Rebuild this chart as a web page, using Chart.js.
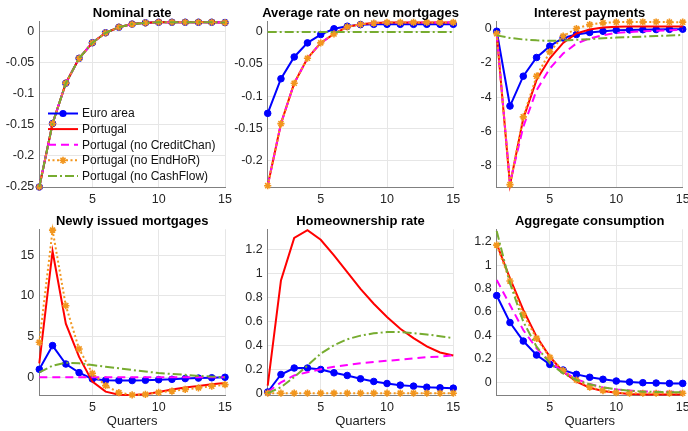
<!DOCTYPE html>
<html>
<head>
<meta charset="utf-8">
<script src="https://cdn.jsdelivr.net/npm/chart.js@4.4.1/dist/chart.umd.min.js"></script>
<style>
html,body{margin:0;padding:0;background:#fff;width:688px;height:431px;overflow:hidden;position:relative}
canvas{position:absolute;left:0;top:0}
</style>
</head>
<body>
<canvas id="c1" width="720" height="431"></canvas>
<canvas id="c2" width="720" height="431"></canvas>
<canvas id="c3" width="720" height="431"></canvas>
<canvas id="c4" width="720" height="431"></canvas>
<canvas id="c5" width="720" height="431"></canvas>
<canvas id="c6" width="720" height="431"></canvas>
<script>
// ---------------- DATA ----------------
const quarters = [1,2,3,4,5,6,7,8,9,10,11,12,13,14,15];
const xTickValues = [5,10,15];
const seriesNames = ['Euro area','Portugal','Portugal (no CreditChan)','Portugal (no EndHoR)','Portugal (no CashFlow)'];
const panelTitles = ['Nominal rate','Average rate on new mortgages','Interest payments','Newly issued mortgages','Homeownership rate','Aggregate consumption'];
const xAxisTitle = 'Quarters';

// Nominal rate
const nomEuro  = [-0.25,-0.148,-0.083,-0.043,-0.018,-0.002,0.007,0.012,0.014,0.015,0.015,0.015,0.015,0.015,0.0145];
const nomPT    = [-0.25,-0.148,-0.083,-0.043,-0.018,-0.002,0.007,0.012,0.014,0.015,0.015,0.015,0.015,0.015,0.0145];
const nomNoCC  = [-0.25,-0.148,-0.083,-0.043,-0.018,-0.002,0.007,0.012,0.014,0.015,0.015,0.015,0.015,0.015,0.0145];
const nomNoEH  = [-0.25,-0.148,-0.083,-0.043,-0.018,-0.002,0.007,0.012,0.014,0.015,0.015,0.015,0.015,0.015,0.0145];
const nomNoCF  = [-0.25,-0.148,-0.083,-0.043,-0.018,-0.002,0.007,0.012,0.014,0.015,0.015,0.015,0.015,0.015,0.0145];
const nomYTicks = [-0.25,-0.2,-0.15,-0.1,-0.05,0];

// Average rate on new mortgages
const mortEuro = [-0.127,-0.073,-0.039,-0.017,-0.004,0.005,0.009,0.0115,0.012,0.012,0.012,0.012,0.012,0.012,0.012];
const mortPT   = [-0.240,-0.143,-0.080,-0.041,-0.017,-0.003,0.008,0.012,0.014,0.015,0.015,0.015,0.015,0.015,0.015];
const mortNoCC = [-0.240,-0.143,-0.080,-0.041,-0.017,-0.003,0.008,0.012,0.014,0.015,0.015,0.015,0.015,0.015,0.015];
const mortNoEH = [-0.240,-0.143,-0.080,-0.041,-0.017,-0.003,0.008,0.012,0.014,0.015,0.015,0.015,0.015,0.015,0.015];
const mortNoCF = [0,0,0,0,0,0,0,0,0,0,0,0,0,0,0];
const mortYTicks = [-0.2,-0.15,-0.1,-0.05,0];

// Interest payments
const intEuro = [-0.16,-4.52,-2.78,-1.69,-1.03,-0.55,-0.35,-0.23,-0.16,-0.10,-0.08,-0.07,-0.06,-0.05,-0.04];
const intPT   = [-0.3,-9.12,-5.25,-3.0,-1.74,-0.84,-0.29,-0.06,0.06,0.1,0.12,0.12,0.12,0.12,0.12];
const intNoCC = [-0.3,-9.0,-5.73,-3.6,-2.33,-1.46,-0.87,-0.58,-0.39,-0.26,-0.2,-0.16,-0.13,-0.1,-0.08];
const intNoEH = [-0.3,-9.1,-5.15,-2.78,-1.36,-0.45,0.0,0.23,0.33,0.37,0.38,0.38,0.38,0.37,0.37];
const intNoCF = [-0.4,-0.55,-0.64,-0.69,-0.72,-0.7,-0.66,-0.62,-0.57,-0.53,-0.5,-0.47,-0.44,-0.41,-0.38];
const intYTicks = [-8,-6,-4,-2,0];

// Newly issued mortgages
const newEuro = [0.98,3.9,1.63,0.57,-0.2,-0.37,-0.4,-0.4,-0.37,-0.3,-0.25,-0.16,-0.1,-0.06,0.0];
const newPT   = [1.72,15.5,6.6,2.5,-0.54,-1.77,-2.15,-2.17,-2.1,-1.8,-1.5,-1.27,-1.07,-0.86,-0.7];
const newNoCC = [0,0,0,0,0,0,0,0,0,0,0,0,0,0,0];
const newNoEH = [4.3,18.1,8.8,3.48,0.49,-1.03,-1.89,-2.17,-2.1,-1.85,-1.7,-1.5,-1.3,-1.1,-0.9];
const newNoCF = [0.6,1.43,1.8,1.72,1.5,1.3,1.1,0.9,0.7,0.53,0.4,0.3,0.17,0.08,0.0];
const newYTicks = [0,5,10,15];

// Homeownership rate
const homeEuro = [0.01,0.156,0.21,0.21,0.198,0.17,0.148,0.12,0.098,0.081,0.067,0.059,0.05,0.045,0.042];
const homePT   = [0.064,0.94,1.295,1.36,1.28,1.15,1.01,0.87,0.746,0.635,0.538,0.46,0.39,0.34,0.315];
const homeNoCC = [0.01,0.09,0.148,0.175,0.2,0.22,0.235,0.25,0.26,0.27,0.28,0.29,0.3,0.305,0.315];
const homeNoEH = [0,0,0,0,0,0,0,0,0,0,0,0,0,0,0];
const homeNoCF = [0,0.05,0.135,0.23,0.33,0.4,0.45,0.48,0.5,0.51,0.51,0.5,0.49,0.475,0.46];
const homeYTicks = [0,0.2,0.4,0.6,0.8,1,1.2];

// Aggregate consumption
const consEuro = [0.74,0.51,0.352,0.233,0.153,0.105,0.068,0.043,0.026,0.011,0.003,-0.003,-0.006,-0.009,-0.009];
const consPT   = [1.18,0.887,0.617,0.39,0.218,0.09,0.005,-0.046,-0.074,-0.089,-0.1,-0.103,-0.103,-0.103,-0.103];
const consNoCC = [0.873,0.66,0.446,0.29,0.176,0.09,0.028,-0.015,-0.043,-0.06,-0.07,-0.078,-0.08,-0.08,-0.08];
const consNoEH = [1.17,0.864,0.58,0.375,0.213,0.1,0.02,-0.04,-0.07,-0.088,-0.093,-0.093,-0.093,-0.093,-0.093];
const consNoCF = [1.29,0.845,0.517,0.304,0.162,0.077,0.02,-0.017,-0.043,-0.06,-0.071,-0.08,-0.082,-0.084,-0.085];
const consYTicks = [0,0.2,0.4,0.6,0.8,1,1.2];

// ---------------- STYLE / LAYOUT ----------------
const FONT = "'Liberation Sans', Arial, Helvetica, sans-serif";
const GRID = '#e6e6e6';
const AXIS = '#808080';
const TICKC = '#262626';
const CW = 720, CH = 431;
const YW = 45;

const styles = [
  {color:'#0000ff', dash:[], width:2, pointStyle:'circle', radius:3.3, pbw:1, order:5},
  {color:'#ff0000', dash:[], width:2, pointStyle:false, radius:0, pbw:0, order:4},
  {color:'#ff00ff', dash:[8,5], width:2, pointStyle:false, radius:0, pbw:0, order:3},
  {color:'#f2961e', dash:[2,2.5], width:2, pointStyle:'star', radius:3.6, pbw:1.6, order:2},
  {color:'#77ac30', dash:[9,3,2,3], width:2, pointStyle:false, radius:0, pbw:0, order:1}
];

function buildDatasets(arrs){
  return arrs.map((arr,i)=>{
    const s = styles[i];
    return {
      label: seriesNames[i],
      data: quarters.map((q,k)=>({x:q, y:arr[k]})),
      borderColor: s.color,
      backgroundColor: s.color,
      borderWidth: s.width,
      borderDash: s.dash,
      pointStyle: s.pointStyle || 'circle',
      pointRadius: s.radius,
      pointHoverRadius: s.radius,
      pointBorderWidth: s.pbw,
      pointBorderColor: s.color,
      pointBackgroundColor: s.color,
      tension: 0,
      fill: false,
      clip: false,
      order: s.order
    };
  });
}

const panelTitlePlugin = {
  id:'panelTitle',
  afterDraw(chart, args, opts){
    const {ctx, chartArea} = chart;
    ctx.save();
    ctx.font = 'bold 13px ' + FONT;
    ctx.fillStyle = '#000';
    ctx.textAlign = 'center';
    ctx.textBaseline = 'middle';
    ctx.fillText(opts.text, (chartArea.left + chartArea.right)/2, chartArea.top - 8);
    ctx.restore();
  }
};

const legendPlugin = {
  id:'seriesLegend',
  afterDraw(chart, args, opts){
    if (!opts.show) return;
    const ctx = chart.ctx;
    const ds = chart.data.datasets;
    ctx.save();
    ds.forEach((d,i)=>{
      const y = opts.y0 + i*opts.dy;
      const x0 = opts.x0, x1 = opts.x0 + 30;
      ctx.strokeStyle = d.borderColor;
      ctx.lineWidth = d.borderWidth;
      ctx.setLineDash(d.borderDash || []);
      ctx.beginPath(); ctx.moveTo(x0,y); ctx.lineTo(x1,y); ctx.stroke();
      ctx.setLineDash([]);
      const cx = (x0+x1)/2;
      if (d.pointRadius > 0){
        if (d.pointStyle === 'circle'){
          ctx.fillStyle = d.pointBackgroundColor;
          ctx.beginPath(); ctx.arc(cx,y,d.pointRadius+0.3,0,Math.PI*2); ctx.fill();
        } else {
          ctx.lineWidth = d.pointBorderWidth;
          ctx.beginPath();
          for (let a=0;a<4;a++){
            const ang = a*Math.PI/4;
            const r = d.pointRadius;
            ctx.moveTo(cx - r*Math.cos(ang), y - r*Math.sin(ang));
            ctx.lineTo(cx + r*Math.cos(ang), y + r*Math.sin(ang));
          }
          ctx.stroke();
        }
      }
      ctx.fillStyle = '#111';
      ctx.font = '12px ' + FONT;
      ctx.textAlign = 'left';
      ctx.textBaseline = 'middle';
      ctx.fillText(d.label, x1 + 4, y + 0.5);
    });
    ctx.restore();
  }
};

function fmt(v){ return String(Math.round(v*1000)/1000); }

function makePanel(id, title, arrs, yMin, yMax, yTicks, rect, showXTitle, showLegend){
  const xh = showXTitle ? 34 : 22;
  new Chart(document.getElementById(id), {
    type:'line',
    data:{ datasets: buildDatasets(arrs) },
    plugins:[panelTitlePlugin, legendPlugin],
    options:{
      responsive:false,
      animation:false,
      devicePixelRatio:1,
      events:[],
      layout:{
        autoPadding:false,
        padding:{ left: rect.L - YW, top: rect.T, right: CW - rect.R, bottom: CH - rect.B - xh }
      },
      plugins:{
        legend:{display:false},
        tooltip:{enabled:false},
        title:{display:false},
        panelTitle:{text:title},
        seriesLegend:{show:showLegend, x0:48, y0:113.5, dy:15.6}
      },
      scales:{
        x:{
          type:'linear', min:1, max:15,
          afterBuildTicks: s => { s.ticks = xTickValues.map(v=>({value:v})); },
          afterFit: s => { s.height = xh; },
          grid:{color:GRID, lineWidth:1, drawTicks:false},
          border:{display:true, color:AXIS, width:1},
          ticks:{padding:5, autoSkip:false, maxRotation:0, color:TICKC, font:{family:FONT, size:12.5}, callback: v => fmt(v)},
          title:{display:showXTitle, text:xAxisTitle, color:'#222', font:{family:FONT, size:13}, padding:{top:0, bottom:0}}
        },
        y:{
          type:'linear', min:yMin, max:yMax,
          afterBuildTicks: s => { s.ticks = yTicks.map(v=>({value:v})); },
          afterFit: s => { s.width = YW; },
          grid:{color:GRID, lineWidth:1, drawTicks:false},
          border:{display:true, color:AXIS, width:1},
          ticks:{padding:5, autoSkip:false, color:TICKC, font:{family:FONT, size:12.5}, callback: v => fmt(v)}
        }
      }
    }
  });
}

const top1 = 21.3, bot1 = 187, top2 = 229.3, bot2 = 395;
const col = [{L:39.3,R:225},{L:267.7,R:453.3},{L:496.7,R:682.7}];

makePanel('c1', panelTitles[0], [nomEuro,nomPT,nomNoCC,nomNoEH,nomNoCF], -0.25, 0.0165, nomYTicks, {L:col[0].L,R:col[0].R,T:top1,B:bot1}, false, true);
makePanel('c2', panelTitles[1], [mortEuro,mortPT,mortNoCC,mortNoEH,mortNoCF], -0.242, 0.0167, mortYTicks, {L:col[1].L,R:col[1].R,T:top1,B:bot1}, false, false);
makePanel('c3', panelTitles[2], [intEuro,intPT,intNoCC,intNoEH,intNoCF], -9.24, 0.42, intYTicks, {L:col[2].L,R:col[2].R,T:top1,B:bot1}, false, false);
makePanel('c4', panelTitles[3], [newEuro,newPT,newNoCC,newNoEH,newNoCF], -2.18, 18.2, newYTicks, {L:col[0].L,R:col[0].R,T:top2,B:bot2}, true, false);
makePanel('c5', panelTitles[4], [homeEuro,homePT,homeNoCC,homeNoEH,homeNoCF], -0.015, 1.367, homeYTicks, {L:col[1].L,R:col[1].R,T:top2,B:bot2}, true, false);
makePanel('c6', panelTitles[5], [consEuro,consPT,consNoCC,consNoEH,consNoCF], -0.108, 1.305, consYTicks, {L:col[2].L,R:col[2].R,T:top2,B:bot2}, true, false);
</script>
</body>
</html>
